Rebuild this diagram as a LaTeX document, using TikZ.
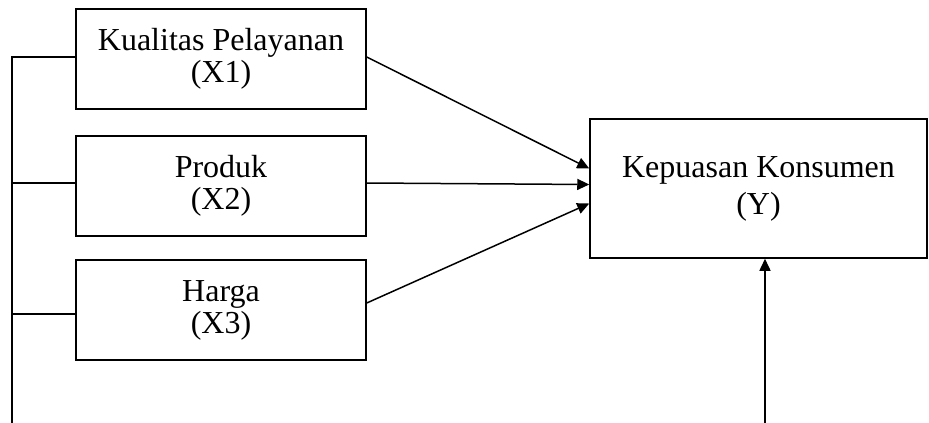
\documentclass[tikz,border=0pt]{standalone}
\usepackage{fontspec}
\setmainfont{Liberation Serif}
\usetikzlibrary{arrows.meta}
\begin{document}
\begin{tikzpicture}[x=1pt,y=-1pt,
  box/.style={draw, line width=1.5pt, minimum width=290pt, minimum height=100pt, align=center, inner sep=0pt, font=\fontsize{32}{32}\selectfont},
  ybox/.style={draw, line width=1.5pt, minimum width=337pt, minimum height=139pt, align=center, inner sep=0pt, font=\fontsize{32}{32}\selectfont},
  conn/.style={line width=1.5pt},
  arr/.style={line width=1.5pt, -{Triangle[length=12pt,width=11pt]}}]
\useasboundingbox (0,0) rectangle (929,423);
\node[box] (x1) at (221,59) {Kualitas Pelayanan\\(X1)};
\node[box] (x2) at (221,186) {Produk\\(X2)};
\node[box] (x3) at (221,310) {Harga\\(X3)};
\node[ybox] (y) at (758.5,188.5) {Kepuasan Konsumen\\[5pt](Y)};
\coordinate (lt) at (12,57);
\coordinate (lb) at (12,423);
\coordinate (rb) at (765,423);
\draw[conn] (lb) -- (lt) -- (lt -| x1.west);
\draw[conn] ([yshift=3pt]x2.west -| lt) -- ([yshift=3pt]x2.west);
\draw[conn] ([yshift=-4pt]x3.west -| lt) -- ([yshift=-4pt]x3.west);
\draw[arr] ([yshift=2pt]x1.east) -- ([yshift=20pt]y.west);
\draw[arr] ([yshift=3pt]x2.east) -- ([yshift=4pt]y.west);
\draw[arr] ([yshift=7pt]x3.east) -- ([yshift=-15pt]y.west);
\draw[arr] (rb) -- (rb |- y.south);
\end{tikzpicture}
\end{document}
